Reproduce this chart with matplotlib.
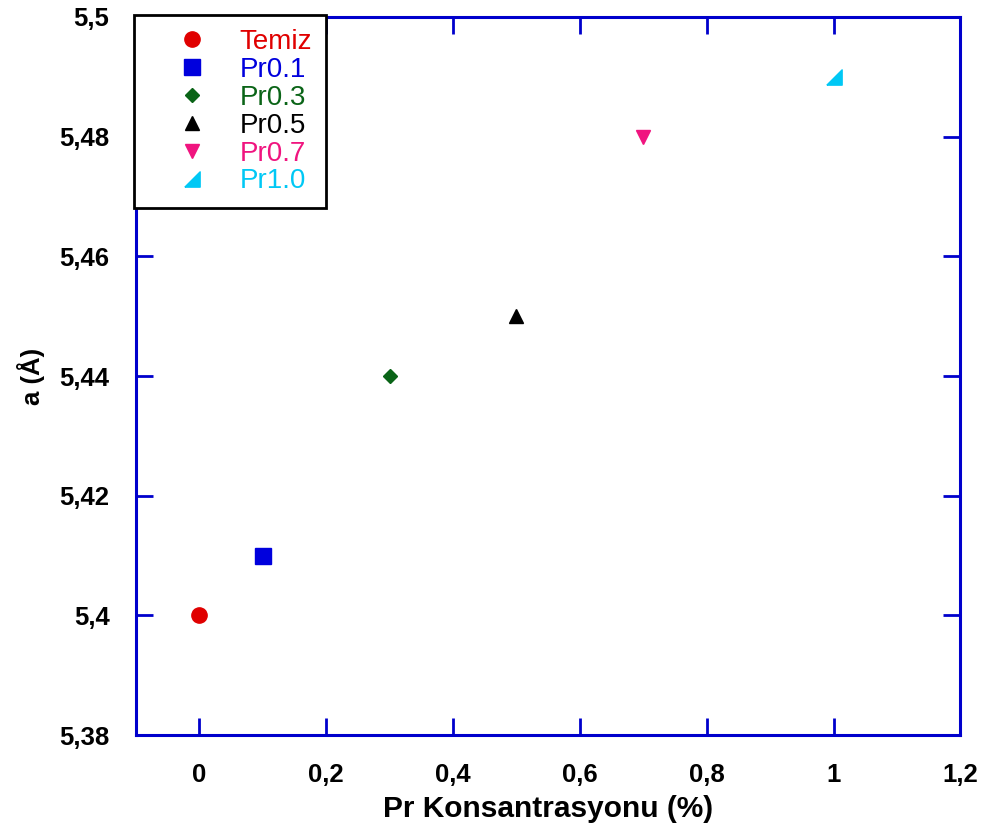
import matplotlib
matplotlib.use("Agg")
import matplotlib.pyplot as plt
import numpy as np

plt.rcParams['font.family'] = ['Liberation Sans', 'DejaVu Sans']

labels = ["Temiz", "Pr0.1", "Pr0.3", "Pr0.5", "Pr0.7", "Pr1.0"]
x_vals = [0.0, 0.1, 0.3, 0.5, 0.7, 1.0]
a_vals = [5.40, 5.41, 5.44, 5.45, 5.48, 5.49]
colors = ["#e00000", "#0000dd", "#0a6417", "#000000", "#f0147f", "#00c8f5"]

# right-angled triangle for Pr1.0
tri = [(-1, -1), (1, -1), (1, 1), (-1, -1)]
markers = ["o", "s", "D", "^", "v", tri]
sizes = [11, 12, 7, 10, 10, 11]

fig = plt.figure(figsize=(9.85, 8.33), dpi=100)
ax = fig.add_axes([0.138, 0.1176, 0.837, 0.862])

for lab, xv, yv, c, m, s in zip(labels, x_vals, a_vals, colors, markers, sizes):
    ax.plot([xv], [yv], linestyle="none", marker=m, color=c, markersize=s,
            markeredgecolor=c, label=lab)

ax.set_xlim(-0.1, 1.2)
ax.set_ylim(5.38, 5.5)
xt = np.round(np.arange(0, 1.21, 0.2), 1)
yt = np.round(np.arange(5.38, 5.501, 0.02), 2)
ax.set_xticks(xt)
ax.set_yticks(yt)
ax.set_xticklabels([f"{v:g}".replace(".", ",") for v in xt])
ax.set_yticklabels([f"{v:g}".replace(".", ",") for v in yt])

for sp in ax.spines.values():
    sp.set_color("#0000cc")
    sp.set_linewidth(2.2)

ax.tick_params(direction="in", length=12, width=2, color="#0000cc",
               top=True, right=True, labelsize=18.5)
ax.tick_params(axis="x", pad=20)
ax.tick_params(axis="y", pad=19)
for t in ax.get_xticklabels() + ax.get_yticklabels():
    t.set_fontweight("bold")

ax.set_xlabel("Pr Konsantrasyonu (%)", fontsize=21.5, fontweight="bold", labelpad=6)
ax.set_ylabel("a (Å)", fontsize=18.5, fontweight="bold", labelpad=10)

leg = ax.legend(loc="upper left", bbox_to_anchor=(-0.002, 1.003), fontsize=20,
                frameon=True, fancybox=False, borderpad=0.5, labelspacing=0.07,
                handletextpad=0.15, borderaxespad=0, handlelength=3.15,
                framealpha=1)
leg.get_frame().set_edgecolor("black")
leg.get_frame().set_linewidth(2)
leg.set_zorder(5)
for txt, c in zip(leg.get_texts(), colors):
    txt.set_color(c)

fig.savefig("out.png", dpi=100)
